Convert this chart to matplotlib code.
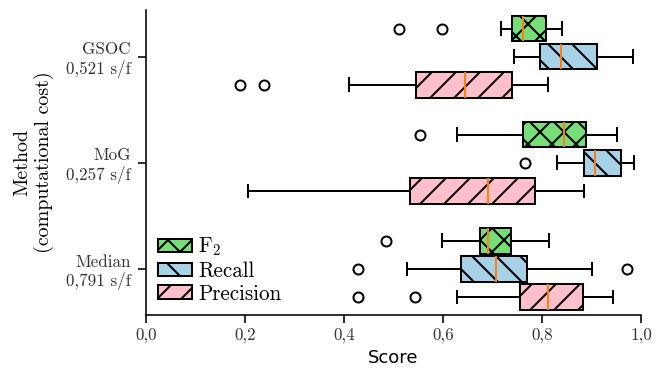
import matplotlib
matplotlib.use("Agg")
import matplotlib.pyplot as plt
from matplotlib.patches import Patch

plt.rcParams['mathtext.fontset'] = 'cm'
plt.rcParams['axes.formatter.use_mathtext'] = True
plt.rcParams['hatch.linewidth'] = 1.0

# order: Median, MoG, GSOC (bottom to top)
methods = ["Median\n0,791 s/f", "MoG\n0,257 s/f", "GSOC\n0,521 s/f"]
metrics = ["F$_2$", "Recall", "Precision"]

# whislo, q1, med, q3, whishi, outliers
f2_stats = [
    (0.597, 0.675, 0.691, 0.736, 0.813, [0.484]),
    (0.628, 0.761, 0.844, 0.889, 0.950, [0.554]),
    (0.717, 0.739, 0.762, 0.807, 0.839, [0.511, 0.597]),
]
recall_stats = [
    (0.527, 0.636, 0.707, 0.770, 0.900, [0.429, 0.972]),
    (0.829, 0.884, 0.906, 0.958, 0.986, [0.765]),
    (0.743, 0.795, 0.837, 0.910, 0.983, []),
]
precision_stats = [
    (0.627, 0.756, 0.811, 0.882, 0.942, [0.429, 0.543]),
    (0.206, 0.534, 0.690, 0.785, 0.884, []),
    (0.410, 0.546, 0.645, 0.739, 0.811, [0.190, 0.239]),
]

colors = ["#77dd77", "#a6d1e6", "#ffc0cb"]
hatches = ["xx", "\\\\", "//"]
offsets = [0.265, 0.0, -0.265]

fig, ax = plt.subplots(figsize=(666 / 144, 371 / 144), dpi=144)

for stats, col, hat, off in zip([f2_stats, recall_stats, precision_stats], colors, hatches, offsets):
    bxp_stats = []
    for s in stats:
        bxp_stats.append(dict(whislo=s[0], q1=s[1], med=s[2], q3=s[3], whishi=s[4], fliers=s[5]))
    pos = [i + off for i in range(len(methods))]
    res = ax.bxp(bxp_stats, positions=pos, widths=0.24, vert=False, patch_artist=True,
                 boxprops=dict(linewidth=1.0, edgecolor="black"),
                 whiskerprops=dict(linewidth=1.0),
                 capprops=dict(linewidth=1.0),
                 medianprops=dict(color="C1", linewidth=1.0),
                 flierprops=dict(marker="o", markersize=5, markerfacecolor="none",
                                 markeredgecolor="black", markeredgewidth=1.0))
    for b in res["boxes"]:
        b.set_facecolor(col)
        b.set_hatch(hat)

ax.set_ylim(-0.43, 2.44)
ax.set_xlim(0, 1.0)
ax.set_yticks(range(len(methods)))
ax.set_yticklabels(methods, family="cmr10", fontsize=8.5, ha="right", multialignment="right")
xt = [0.0, 0.2, 0.4, 0.6, 0.8, 1.0]
ax.set_xticks(xt)
ax.set_xticklabels([f"{v:.1f}".replace(".", ",") for v in xt], family="cmr10", fontsize=8.5)
ax.tick_params(axis="both", labelcolor="#333333", length=4)
ax.tick_params(axis="x", pad=2.5)
for sp in ["top", "right"]:
    ax.spines[sp].set_visible(False)

ax.set_xlabel("Score", fontsize=9, labelpad=3)
ax.set_ylabel("Method\n(computational cost)", family="cmr10", fontsize=10, labelpad=6)

handles = [Patch(facecolor=c, edgecolor="black", hatch=h, linewidth=1.0) for c, h in zip(colors, hatches)]
leg = ax.legend(handles, metrics, loc="lower left", frameon=False, prop=dict(family="cmr10", size=10.5),
                handlelength=1.6, handleheight=0.6, handletextpad=0.3, labelspacing=0.15,
                borderaxespad=0.2, bbox_to_anchor=(0.0, -0.005))

plt.subplots_adjust(left=0.219, right=0.963, top=0.973, bottom=0.152)
fig.savefig("out.png", dpi=144)
